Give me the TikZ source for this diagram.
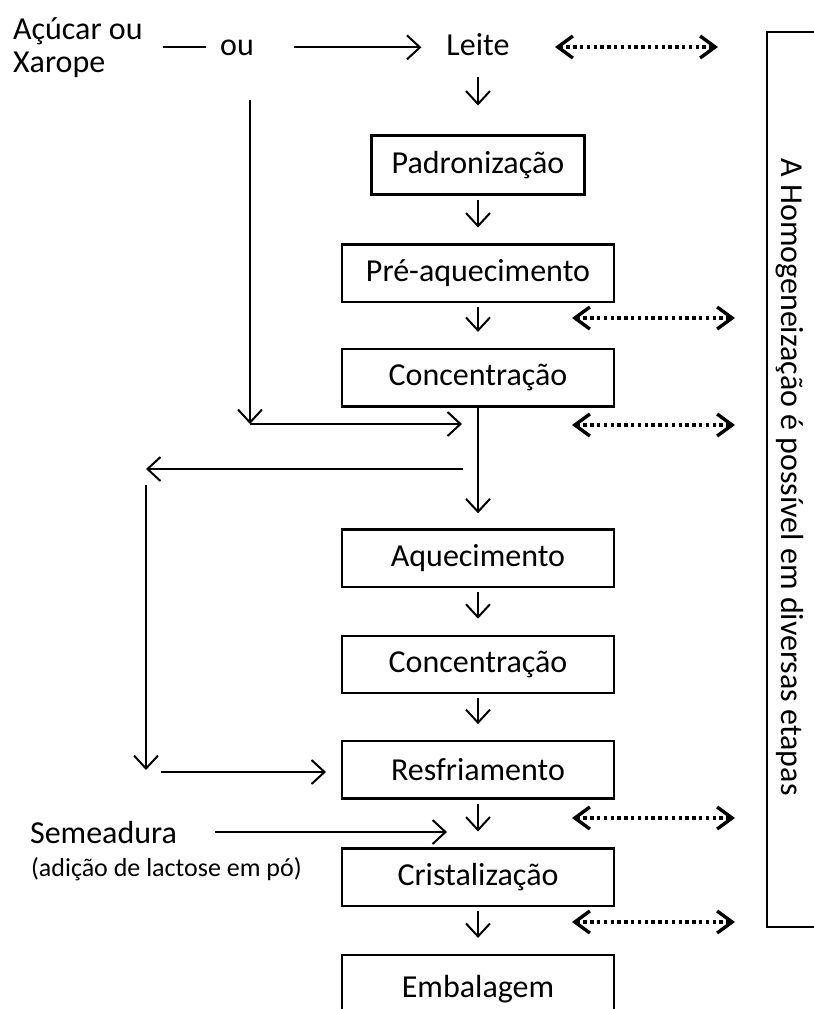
\documentclass[tikz,border=0pt]{standalone}
\usepackage{fontspec}
\setmainfont{Carlito}
\usetikzlibrary{positioning,arrows.meta}

\begin{document}
\begin{tikzpicture}[x=0.5pt, y=-0.5pt, font=\fontsize{16}{17}\selectfont,
    box/.style={draw, line width=1.2pt, minimum width=136pt, minimum height=28.7pt, inner sep=0pt, outer sep=0pt},
    arr/.style={line width=1pt, -{Straight Barb[length=6.5pt,width=12pt]}},
    dotarr/.style={line width=1.7pt, dash pattern=on 1.7pt off 1.7pt,
        {Straight Barb[length=7.5pt,width=11pt]}-{Straight Barb[length=7.5pt,width=11pt]}}]
    \useasboundingbox (0,0) rectangle (814,1009);

    % entradas
    \node [anchor=west, align=left, font=\fontsize{16}{16.5}\selectfont] (acucar) at (6,48) {Açúcar ou\\Xarope};
    \node [anchor=base] (ou)    at (237,55) {ou};
    \node [anchor=base] (leite) at (478,55) {Leite};

    % etapas
    \node [box, minimum width=106.5pt, minimum height=29.5pt] (padr) at (478,165) {Padronização};
    \node [box, below=25pt of padr]    (preheat) {Pré-aquecimento};
    \node [box, below=23.5pt of preheat] (conc1) {Concentração};
    \node [box, below=61.5pt of conc1] (heat)  {Aquecimento};
    \node [box, below=24.5pt of heat]  (conc2) {Concentração};
    \node [box, below=24pt of conc2]   (cool)  {Resfriamento};
    \node [box, below=25pt of cool]    (cryst) {Cristalização};
    \node [box, below=24.5pt of cryst, minimum height=34pt] (pack)  {Embalagem};

    \node [anchor=base west] (seed) at (23,843) {Semeadura};
    \node [anchor=base west, font=\fontsize{13}{14}\selectfont] (seednote) at (24,876) {(adição de lactose em pó)};

    \node [rotate=-90] (note) at (790,477) {A Homogeneização é possível em diversas etapas};

    \coordinate (ouJoin)  at (250,424);
    \coordinate (loopTop) at (146,469);
    \coordinate (loopBot) at (146,772);

    % fluxo principal
    \draw[arr, shorten <=7.5pt, shorten >=15pt] (leite) -- (padr);
    \foreach \a/\b in {padr/preheat, preheat/conc1, heat/conc2, conc2/cool, cool/cryst, cryst/pack}
        \draw[arr, shorten <=2.5pt, shorten >=8.5pt] (\a) -- (\b);
    \draw[arr, shorten >=8pt] (conc1) -- (heat);

    % acucar / xarope
    \draw[line width=1pt, shorten <=6.5pt, shorten >=3.5pt] (acucar.east |- ou.west) -- (ou.west);
    \draw[arr, shorten <=16.5pt, shorten >=9pt] (ou.east) -- (ou.east -| leite.west);
    \draw[arr, shorten <=19pt] (ouJoin |- ou.south) -- (ouJoin);
    \draw[arr, shorten >=8pt] (ouJoin) -- (ouJoin -| conc1.south);

    % desvio
    \draw[arr, shorten <=7.5pt] (loopTop -| conc1.south) -- (loopTop);
    \draw[arr, shorten <=8pt, shorten >=1pt] (loopTop) -- (loopBot);
    \draw[arr, shorten <=7.5pt, shorten >=8pt] (loopBot) -- (loopBot -| cool.west);

    \draw[arr, shorten <=15.5pt, shorten >=15.5pt] (seed.east) -- (seed.east -| cryst.north);

    % homogeneizacao
    \foreach \n/\xa/\y in {1/555/47, 2/572/318, 3/572/425, 4/572/818, 5/572/922} {
        \coordinate (hl\n) at (\xa,\y);
        \coordinate (hr\n) at (\xa+163,\y);
        \draw[dotarr] (hl\n) -- (hr\n);
    }
    \draw[line width=1.3pt] (830,32) -| (767,927) -- (830,927);
\end{tikzpicture}
\end{document}
